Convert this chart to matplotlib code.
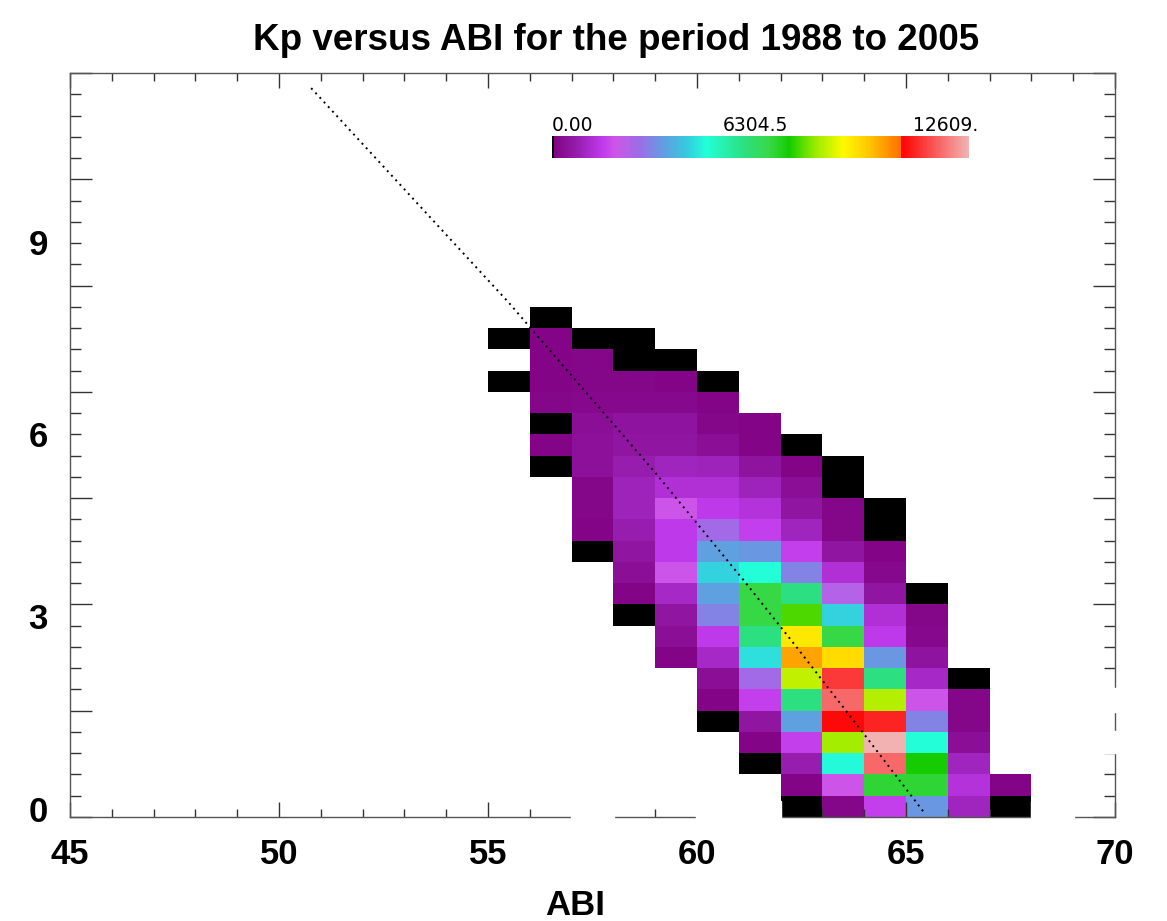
import numpy as np
import matplotlib
matplotlib.use('Agg')
import matplotlib.pyplot as plt
from matplotlib.colors import LinearSegmentedColormap, ListedColormap, Normalize
from matplotlib.ticker import MultipleLocator
from matplotlib.patches import Rectangle

plt.rcParams['font.family'] = ['Liberation Sans', 'DejaVu Sans']
plt.rcParams['font.weight'] = 'bold'

# ABI bins (left edges) and Kp bins (thirds of a Kp unit)
abi_edges = np.arange(55, 69)
kp_edges = np.arange(0, 25)
vmax = 12609.

n = np.nan
# counts, rows from the top Kp bin (23) down to bin 0, columns ABI 55..67
counts_top_down = [
    [n, 5, n, n, n, n, n, n, n, n, n, n, n],
    [4, 130, 6, 3, n, n, n, n, n, n, n, n, n],
    [n, 130, 150, 8, 5, n, n, n, n, n, n, n, n],
    [7, 140, 160, 170, 130, 9, n, n, n, n, n, n, n],
    [n, 150, 200, 230, 200, 100, n, n, n, n, n, n, n],
    [n, 10, 380, 500, 500, 150, 100, n, n, n, n, n, n],
    [n, 120, 400, 570, 570, 380, 110, 6, n, n, n, n, n],
    [n, 4, 400, 760, 950, 900, 500, 140, 8, n, n, n, n],
    [n, n, 180, 900, 1260, 1260, 900, 380, 5, n, n, n, n],
    [n, n, 180, 900, 1890, 1510, 1300, 570, 150, 6, n, n, n],
    [n, n, 140, 760, 1510, 2520, 1600, 950, 150, 7, n, n, n],
    [n, n, 6, 570, 1510, 3400, 3300, 1600, 570, 100, n, n, n],
    [n, n, n, 380, 1890, 4160, 4670, 2960, 1260, 200, n, n, n],
    [n, n, n, 130, 1070, 3400, 6560, 5800, 2270, 570, 5, n, n],
    [n, n, n, 6, 570, 2960, 6560, 7500, 4160, 1260, 150, n, n],
    [n, n, n, n, 380, 1510, 5800, 9080, 6560, 1510, 200, n, n],
    [n, n, n, n, 140, 1070, 4300, 9960, 9270, 3300, 500, n, n],
    [n, n, n, n, n, 380, 2520, 8320, 11220, 5800, 1070, 5, n],
    [n, n, n, n, n, 140, 1600, 5800, 11730, 8200, 1890, 150, n],
    [n, n, n, n, n, 6, 570, 3400, 10650, 10970, 2960, 150, n],
    [n, n, n, n, n, n, 140, 1600, 8070, 12609, 4670, 380, n],
    [n, n, n, n, n, n, 5, 760, 4600, 11730, 7190, 950, n],
    [n, n, n, n, n, n, n, 140, 1890, 6700, 6700, 1300, 140],
    [n, n, n, n, n, n, n, 4, 150, 1600, 3300, 950, 6],
]
counts = np.array(counts_top_down[::-1])

# dotted reference curve (ABI, Kp bin)
line_abi = [50.77, 55.50, 59.00, 61.11, 62.30, 64.00, 65.41]
line_kp = [34.29, 24.19, 16.20, 11.15, 8.20, 3.89, 0.27]

# y labels and where they sit
ylab_text = ['0', '3', '6', '9']
ylab_pos = [0.2, 9.27, 17.85, 26.88]

# colour table: black at zero, purple -> magenta -> cyan -> green -> yellow -> orange | red -> pink
anchors = [
    (0.000, (128, 0, 128)), (0.06, (150, 30, 175)), (0.12, (192, 58, 236)),
    (0.15, (205, 85, 232)), (0.21, (155, 110, 232)), (0.27, (95, 160, 225)),
    (0.32, (56, 200, 224)), (0.37, (34, 255, 216)), (0.46, (44, 224, 128)),
    (0.52, (56, 216, 72)), (0.57, (20, 204, 0)), (0.63, (150, 235, 0)),
    (0.70, (255, 250, 0)), (0.76, (255, 200, 0)), (0.838, (255, 110, 0)),
    (0.839, (255, 0, 0)), (1.0, (242, 178, 178)),
]
base = LinearSegmentedColormap.from_list(
    'idl', [(p, tuple(c / 255. for c in rgb)) for p, rgb in anchors], N=256)
cols = base(np.linspace(0, 1, 256))
cols[0] = (0, 0, 0, 1)
cmap = ListedColormap(cols)
norm = Normalize(0, vmax)

fig = plt.figure(figsize=(11.67, 9.21), dpi=100)
ax = fig.add_axes([70 / 1167, 104 / 921, 1045 / 1167, 744 / 921])

mesh = ax.pcolormesh(abi_edges, kp_edges, np.ma.masked_invalid(counts),
                     cmap=cmap, norm=norm, zorder=1)
ax.plot(line_abi, line_kp, color='black', lw=1.4, ls=(0, (1, 2.2)), zorder=4)

ax.set_xlim(45, 70)
ax.set_ylim(0, 35)
ax.xaxis.set_major_locator(MultipleLocator(5))
ax.xaxis.set_minor_locator(MultipleLocator(1))
ax.yaxis.set_major_locator(MultipleLocator(5))
ax.yaxis.set_minor_locator(MultipleLocator(1))
ax.tick_params(which='both', direction='in', top=True, right=True,
               color='#333333', width=1.0)
ax.tick_params(axis='x', which='major', length=11, labelsize=25, pad=15)
ax.tick_params(axis='x', which='minor', length=6)
ax.tick_params(axis='y', which='major', length=16, labelleft=False)
ax.tick_params(axis='y', which='minor', length=8)
for s in ax.spines.values():
    s.set_color('#555555')
    s.set_linewidth(1.0)

for t, y in zip(ylab_text, ylab_pos):
    ax.text(-0.021, y, t, transform=ax.get_yaxis_transform(), ha='right',
            va='center', fontsize=25, fontweight='bold')

# white breaks in the frame, as in the original
for x0, x1 in [(56.98, 58.02), (59.98, 62.0), (68.0, 69.02)]:
    ax.add_patch(Rectangle((x0, -0.15), x1 - x0, 0.9, color='white',
                           clip_on=False, zorder=3))
for y0, y1 in [(3.0, 4.05), (4.94, 6.07)]:
    ax.add_patch(Rectangle((69.4, y0), 0.7, y1 - y0, color='white',
                           clip_on=False, zorder=3))

fig.text(575 / 1167, 1 - 905 / 921, 'ABI', ha='center', va='center',
         fontsize=25, fontweight='bold')
fig.text(616 / 1167, 1 - 40 / 921, 'Kp versus ABI for the period 1988 to 2005',
         ha='center', va='center', fontsize=26.5, fontweight='bold')

cax = fig.add_axes([552 / 1167, 1 - 158 / 921, 417 / 1167, 22 / 921])
cb = fig.colorbar(mesh, cax=cax, orientation='horizontal')
cb.set_ticks([])
cb.outline.set_visible(False)
lab_kw = dict(fontsize=13.5, fontweight='normal', family='DejaVu Sans', va='baseline')
fig.text(552 / 1167, 1 - 131 / 921, '0.00', ha='left', **lab_kw)
fig.text(755 / 1167, 1 - 131 / 921, '6304.5', ha='center', **lab_kw)
fig.text(978 / 1167, 1 - 131 / 921, '12609.', ha='right', **lab_kw)

fig.savefig('out.png', dpi=100)
